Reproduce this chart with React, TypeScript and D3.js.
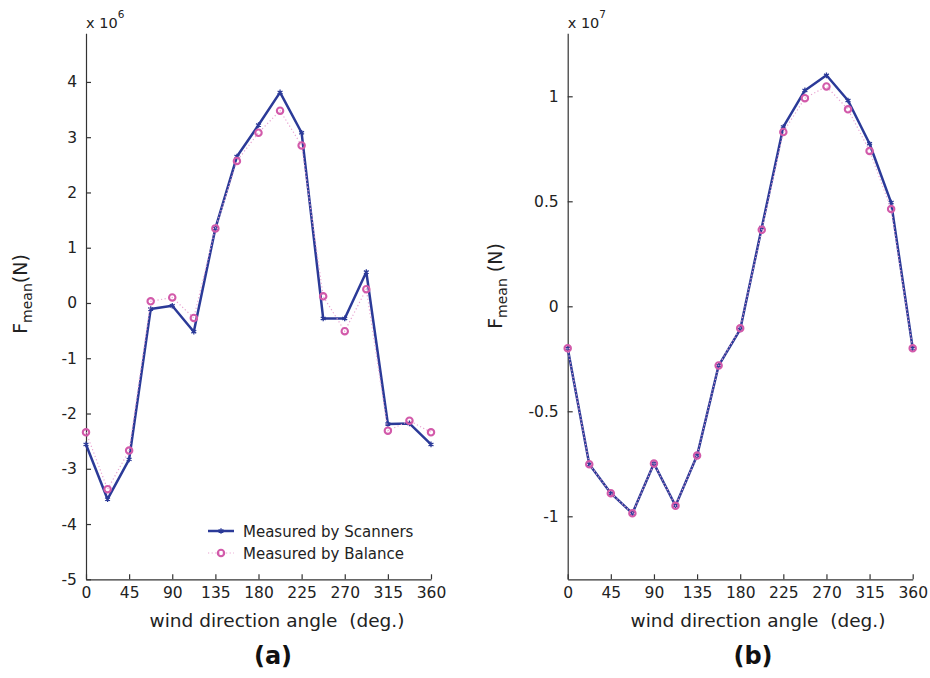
import React, { useEffect, useRef } from 'react';
import * as d3 from 'd3';

// wind direction angles (deg.)
const angles = [0, 22.5, 45, 67.5, 90, 112.5, 135, 157.5, 180, 202.5, 225, 247.5, 270, 292.5, 315, 337.5, 360];

// panel (a), units of 1e6 N
const scannersA = [-2.56, -3.55, -2.83, -0.11, -0.05, -0.52, 1.35, 2.65, 3.22, 3.81, 3.08, -0.28, -0.28, 0.56, -2.19, -2.18, -2.56];
const balanceA = [-2.34, -3.37, -2.67, 0.03, 0.10, -0.27, 1.35, 2.57, 3.08, 3.48, 2.85, 0.12, -0.51, 0.25, -2.31, -2.13, -2.34];

// panel (b), units of 1e7 N
const scannersB = [-0.2, -0.752, -0.89, -0.986, -0.749, -0.95, -0.711, -0.282, -0.11, 0.375, 0.854, 1.028, 1.10, 0.98, 0.774, 0.494, -0.2];
const balanceB = [-0.2, -0.752, -0.89, -0.986, -0.749, -0.95, -0.711, -0.282, -0.105, 0.364, 0.83, 0.991, 1.047, 0.938, 0.74, 0.463, -0.2];

const xTicks = [0, 45, 90, 135, 180, 225, 270, 315, 360];
const yTicksA = [-5, -4, -3, -2, -1, 0, 1, 2, 3, 4];
const yTicksB = [-1, -0.5, 0, 0.5, 1];

const BLUE = '#2B3A98';
const PINK = '#D25AAA';
const PINK_LINE = '#E8A3D0';
const AXIS = '#333';
const FONT = 'DejaVu Sans, sans-serif';

type Panel = {
  left: number; right: number; scanners: number[]; balance: number[];
  yDomain: [number, number]; yTicks: number[]; exp: string;
  yLabelX: number; yLabelY: number; yLabelGap: boolean;
  xLabelX: number; tagX: number; tag: string; legend: boolean;
};

const panels: Panel[] = [
  { left: 86, right: 431, scanners: scannersA, balance: balanceA, yDomain: [-5, 4.88], yTicks: yTicksA, exp: '6',
    yLabelX: 27, yLabelY: 294, yLabelGap: false, xLabelX: 277, tagX: 273, tag: '(a)', legend: true },
  { left: 567.7, right: 912.7, scanners: scannersB, balance: balanceB, yDomain: [-1.3, 1.3], yTicks: yTicksB, exp: '7',
    yLabelX: 502, yLabelY: 286, yLabelGap: true, xLabelX: 758, tagX: 753, tag: '(b)', legend: false },
];

const TOP = 33.3;
const BOTTOM = 579.3;

export default function App() {
  const ref = useRef<SVGSVGElement>(null);

  useEffect(() => {
    const svg = d3.select(ref.current);
    svg.selectAll('*').remove();

    panels.forEach(p => {
      const x = d3.scaleLinear().domain([0, 360]).range([p.left, p.right]);
      const y = d3.scaleLinear().domain(p.yDomain).range([BOTTOM, TOP]);
      const g = svg.append('g');

      const xAxis = d3.axisBottom(x).tickValues(xTicks).tickSize(-5).tickSizeOuter(0).tickPadding(8).tickFormat(d => String(d));
      const gx = g.append('g').attr('transform', `translate(0,${BOTTOM})`).call(xAxis);
      const yAxis = d3.axisLeft(y).tickValues(p.yTicks).tickSize(-5).tickSizeOuter(0).tickPadding(9).tickFormat(d => String(d));
      const gy = g.append('g').attr('transform', `translate(${p.left},0)`).call(yAxis);
      [gx, gy].forEach(a => {
        a.select('.domain').attr('stroke', AXIS).attr('stroke-width', 1.2);
        a.selectAll('.tick line').attr('stroke', AXIS).attr('stroke-width', 1.2);
        a.selectAll('.tick text').attr('fill', '#222').attr('font-size', 15.5).attr('font-family', FONT);
      });

      // exponent label
      const ex = g.append('text').attr('x', p.left).attr('y', 28).attr('font-family', FONT).attr('font-size', 14.5).attr('fill', '#222');
      ex.append('tspan').text('x 10');
      ex.append('tspan').attr('font-size', 10.5).attr('dy', -10).text(p.exp);

      // scanners series
      const line = d3.line<number>().x((d, i) => x(angles[i])).y(d => y(d));
      g.append('path').datum(p.scanners).attr('fill', 'none').attr('stroke', BLUE).attr('stroke-width', 2.5)
        .attr('stroke-linejoin', 'round').attr('d', line);
      const star = d3.symbol().type(d3.symbolAsterisk).size(22);
      g.selectAll('.sm').data(p.scanners).enter().append('path')
        .attr('transform', (d, i) => `translate(${x(angles[i])},${y(d)})`)
        .attr('d', star).attr('fill', 'none').attr('stroke', BLUE).attr('stroke-width', 1.3);

      // balance series
      g.append('path').datum(p.balance).attr('fill', 'none').attr('stroke', PINK_LINE).attr('stroke-width', 1.2)
        .attr('stroke-dasharray', '1.2,2.4').attr('d', line);
      g.selectAll('.bm').data(p.balance).enter().append('circle')
        .attr('cx', (d, i) => x(angles[i])).attr('cy', d => y(d)).attr('r', 3.2)
        .attr('fill', 'none').attr('stroke', PINK).attr('stroke-width', 2.1);

      // y label
      const yl = g.append('text').attr('transform', `translate(${p.yLabelX},${p.yLabelY}) rotate(-90)`)
        .attr('text-anchor', 'middle').attr('font-family', FONT).attr('font-size', 19).attr('fill', '#222');
      yl.append('tspan').text('F');
      yl.append('tspan').attr('font-size', 14).attr('dy', 5).text('mean');
      yl.append('tspan').attr('dy', -5).text(p.yLabelGap ? '\u00a0(N)' : '(N)');

      // x label
      g.append('text').attr('x', p.xLabelX).attr('y', 627).attr('text-anchor', 'middle')
        .attr('font-family', FONT).attr('font-size', 18.5).attr('fill', '#222').style('white-space', 'pre')
        .text('wind direction angle  (deg.)');

      // panel tag
      g.append('text').attr('x', p.tagX).attr('y', 664).attr('text-anchor', 'middle')
        .attr('font-family', FONT).attr('font-weight', 'bold').attr('font-size', 24).attr('fill', '#111').text(p.tag);

      if (p.legend) {
        const lg = g.append('g');
        const rows = [
          { label: 'Measured by Scanners', y: 531, kind: 'scan' },
          { label: 'Measured by Balance', y: 553, kind: 'bal' },
        ];
        rows.forEach(r => {
          if (r.kind === 'scan') {
            lg.append('line').attr('x1', 208).attr('x2', 234).attr('y1', r.y).attr('y2', r.y).attr('stroke', BLUE).attr('stroke-width', 2.5);
            lg.append('path').attr('transform', `translate(221,${r.y})`).attr('d', star).attr('fill', 'none').attr('stroke', BLUE).attr('stroke-width', 1.3);
          } else {
            lg.append('line').attr('x1', 208).attr('x2', 234).attr('y1', r.y).attr('y2', r.y).attr('stroke', PINK_LINE).attr('stroke-width', 1.2).attr('stroke-dasharray', '1.2,2.4');
            lg.append('circle').attr('cx', 221).attr('cy', r.y).attr('r', 3.2).attr('fill', 'none').attr('stroke', PINK).attr('stroke-width', 2.1);
          }
          lg.append('text').attr('x', 243).attr('y', r.y + 5.5).attr('font-family', FONT).attr('font-size', 15).attr('fill', '#222').text(r.label);
        });
      }
    });
  }, []);

  return (
    <div style={{ position: 'absolute', left: 0, top: 0 }}>
      <svg ref={ref} width={930} height={678} style={{ display: 'block', background: '#fff' }} />
    </div>
  );
}
